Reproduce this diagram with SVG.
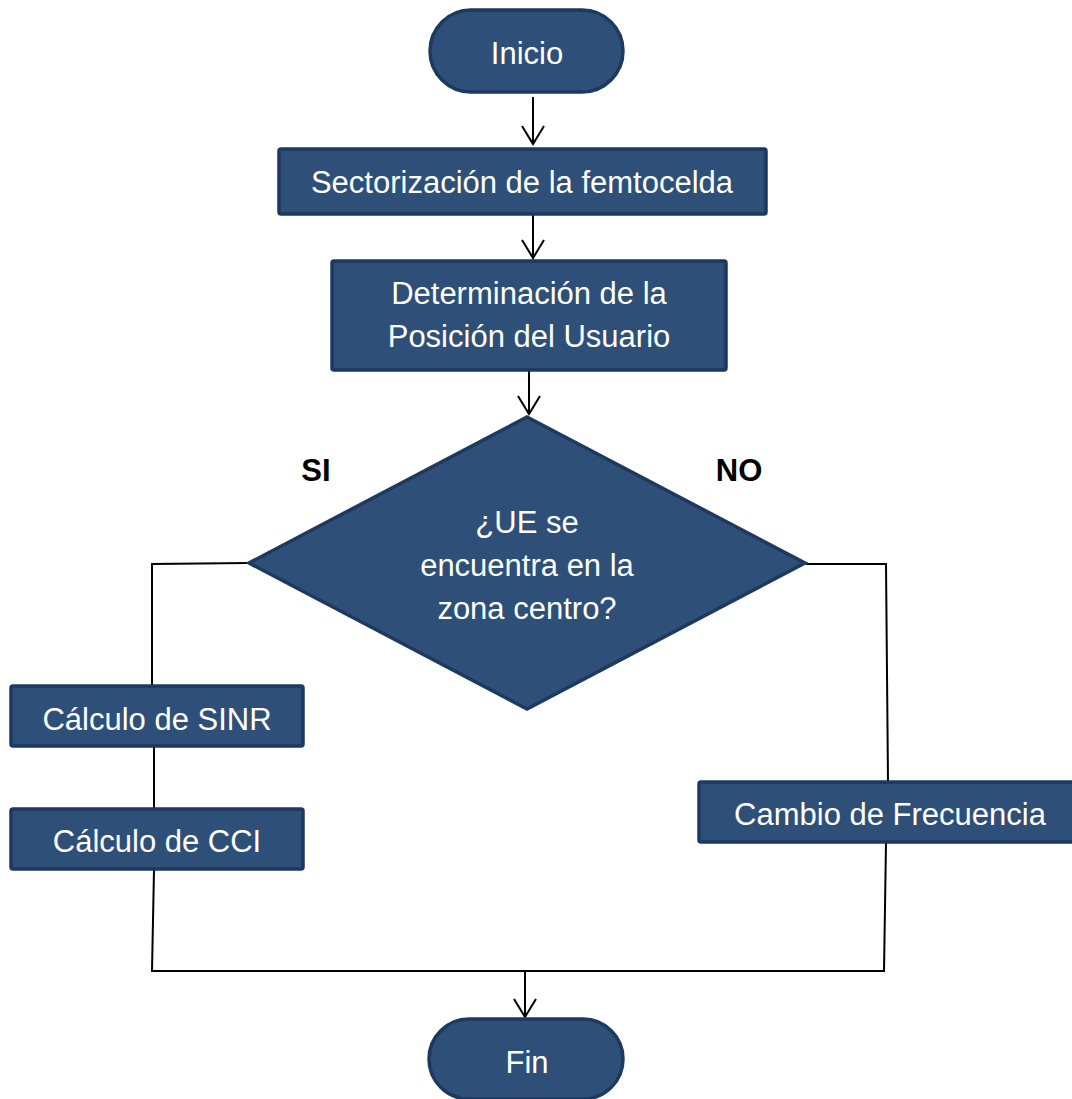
<svg xmlns="http://www.w3.org/2000/svg" width="1072" height="1099" viewBox="0 0 1072 1099">
  <style>
    .shape { fill: #2E4F77; stroke: #1D3960; stroke-width: 3.5; }
    .label { font-family: "Liberation Sans", Arial, sans-serif; font-size: 31px; fill: #FFFFFF; text-anchor: middle; }
    .branch { font-family: "Liberation Sans", Arial, sans-serif; font-size: 31px; font-weight: bold; fill: #000000; text-anchor: middle; }
    .link { fill: none; stroke: #000000; stroke-width: 2; }
  </style>

  <rect width="1072" height="1099" fill="#FFFFFF"/>

  <!-- connectors: lines plus open V arrowheads -->
  <g id="connectors">
    <line class="link" x1="533" y1="97" x2="533" y2="144"/>
    <path class="link" d="M522,126 L533,144 L544,126"/>
    <line class="link" x1="533" y1="215" x2="533" y2="259"/>
    <path class="link" d="M522,240 L533,258 L544,240"/>
    <line class="link" x1="529" y1="371" x2="529" y2="414"/>
    <path class="link" d="M518,396 L529,414 L540,396"/>
    <!-- SI branch -->
    <polyline class="link" points="248,563 152,564 152,686"/>
    <line class="link" x1="154" y1="747" x2="154" y2="808"/>
    <polyline class="link" points="154,870 152,971 884,971 886,843"/>
    <!-- NO branch -->
    <polyline class="link" points="806,564 886,564 888,782"/>
    <!-- to end -->
    <line class="link" x1="525" y1="971" x2="525" y2="1017"/>
    <path class="link" d="M514,999 L525,1017 L536,999"/>
  </g>

  <g id="inicio">
    <rect class="shape" x="430" y="10" width="193" height="82" rx="41"/>
    <text class="label" x="527" y="64">Inicio</text>
  </g>

  <g id="sectorizacion">
    <rect class="shape" x="279" y="149" width="487" height="65" rx="2"/>
    <text class="label" x="522" y="193">Sectorización de la femtocelda</text>
  </g>

  <g id="posicion">
    <rect class="shape" x="332" y="261" width="394" height="109" rx="2"/>
    <text class="label" x="529" y="304">Determinación de la</text>
    <text class="label" x="529" y="347">Posición del Usuario</text>
  </g>

  <g id="decision">
    <polygon class="shape" points="527,417 805,563 527,709 249,563"/>
    <text class="label" x="527" y="533">¿UE se</text>
    <text class="label" x="527" y="576">encuentra en la</text>
    <text class="label" x="527" y="619">zona centro?</text>
  </g>

  <g id="branch-labels">
    <text class="branch" x="316" y="481">SI</text>
    <text class="branch" x="739" y="481">NO</text>
  </g>

  <g id="sinr">
    <rect class="shape" x="11" y="686" width="292" height="60" rx="2"/>
    <text class="label" x="157" y="730">Cálculo de SINR</text>
  </g>

  <g id="cci">
    <rect class="shape" x="11" y="809" width="292" height="60" rx="2"/>
    <text class="label" x="157" y="852">Cálculo de CCI</text>
  </g>

  <g id="frecuencia">
    <rect class="shape" x="699" y="782" width="390" height="60" rx="2"/>
    <text class="label" x="890" y="825">Cambio de Frecuencia</text>
  </g>

  <g id="fin">
    <rect class="shape" x="429" y="1019" width="194" height="80" rx="40"/>
    <text class="label" x="527" y="1073">Fin</text>
  </g>
</svg>
